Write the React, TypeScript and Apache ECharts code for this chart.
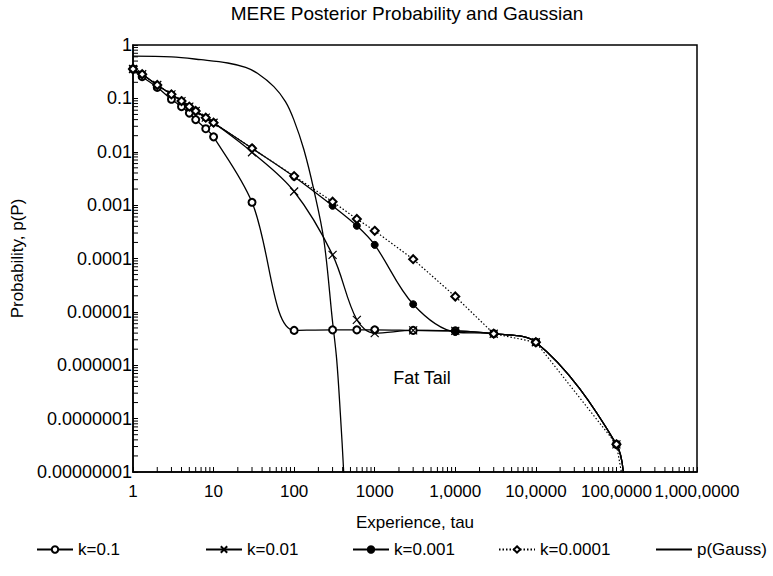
import React, { useEffect, useRef } from 'react';
import * as echarts from 'echarts';

const chartTitle = 'MERE Posterior Probability and Gaussian';
const xAxisName = 'Experience, tau';
const yAxisName = 'Probability, p(P)';
const annotation = 'Fat Tail';

const xTickLabels = ['1', '10', '100', '1000', '1,0000', '10,0000', '100,0000', '1,000,0000'];
const yTickLabels = ['1', '0.1', '0.01', '0.001', '0.0001', '0.00001', '0.000001', '0.0000001', '0.00000001'];

const seriesNames = ['k=0.1', 'k=0.01', 'k=0.001', 'k=0.0001', 'p(Gauss)'];

const tau = [1, 1.3, 2, 3, 4, 5, 6, 8, 10, 30, 100, 300, 600, 1000, 3000, 10000, 30000, 100000, 1000000, 1250000];
const pK01 = [0.355, 0.255, 0.161, 0.096, 0.07, 0.053, 0.04, 0.027, 0.019, 0.00113, 4.5e-6, 4.6e-6, 4.6e-6, 4.6e-6, 4.5e-6, 4.4e-6, 3.9e-6, 2.7e-6, 3.3e-8, 5e-9];
const pK001 = [0.355, 0.283, 0.178, 0.119, 0.089, 0.07, 0.058, 0.0435, 0.035, 0.0098, 0.0018, 1.17e-4, 7.1e-6, 4.0e-6, 4.5e-6, 4.4e-6, 3.9e-6, 2.7e-6, 3.3e-8, 5e-9];
const pK0001 = [0.355, 0.283, 0.178, 0.119, 0.089, 0.07, 0.058, 0.0435, 0.035, 0.0116, 0.0034, 9.7e-4, 4.1e-4, 1.8e-4, 1.39e-5, 4.2e-6, 3.9e-6, 2.7e-6, 3.3e-8, 5e-9];
const pK00001 = [0.355, 0.283, 0.178, 0.119, 0.089, 0.07, 0.058, 0.0435, 0.035, 0.0116, 0.0035, 1.16e-3, 5.5e-4, 3.3e-4, 9.7e-5, 1.94e-5, 3.9e-6, 2.7e-6, 3.3e-8, 5e-9];

const gaussTau = [1, 3, 7, 15, 25, 35, 56, 78, 99, 132, 176, 234, 298, 337, 375, 412, 440];
const gaussP = [0.62, 0.6, 0.53, 0.46, 0.38, 0.295, 0.166, 0.087, 0.04, 0.011, 1.9e-3, 2.2e-4, 7.1e-6, 1.3e-6, 1.2e-7, 1e-8, 1e-9];

const minorMultipliers = [2, 3, 4, 5, 6, 7, 8, 9];
const xDecades = [1, 10, 100, 1000, 10000, 100000, 1000000];
const yDecades = [1e-8, 1e-7, 1e-6, 1e-5, 1e-4, 1e-3, 1e-2, 1e-1];

const legendLefts = [36, 205, 352, 498, 655];

const FONT = 'Liberation Sans, Arial, sans-serif';

function buildData(xs: number[], ys: number[]) {
  return xs.map((x, i) =>
    i === xs.length - 1 ? { value: [x, ys[i]], symbol: 'none' } : [x, ys[i]]
  );
}

export default function App() {
  const ref = useRef<HTMLDivElement>(null);
  useEffect(() => {
    if (!ref.current) return;
    const chart = echarts.init(ref.current, undefined, { renderer: 'svg' });

    const xMinor: number[][] = [];
    xDecades.forEach((d) => minorMultipliers.forEach((m) => xMinor.push([d * m, 1e-8])));
    const yMinor: number[][] = [];
    yDecades.forEach((d) => minorMultipliers.forEach((m) => yMinor.push([1, d * m])));

    const lineBase = { type: 'line', smooth: 0.35, clip: true, symbolSize: 7, z: 3 };

    const option: any = {
      animation: false,
      backgroundColor: '#fff',
      textStyle: { fontFamily: FONT, color: '#000' },
      title: {
        text: chartTitle,
        left: 407,
        top: 4,
        textAlign: 'center',
        padding: 0,
        textStyle: { fontFamily: FONT, fontSize: 19, fontWeight: 'normal', color: '#000' },
      },
      grid: {
        left: 133,
        right: 76,
        top: 45,
        bottom: 104,
        show: true,
        borderColor: '#000',
        borderWidth: 1.5,
        backgroundColor: 'transparent',
        outerBoundsMode: 'none',
        containLabel: false,
      },
      legend: seriesNames.map((n, i) => ({
        data: [i === 4 ? { name: n, itemStyle: { opacity: 0 } } : { name: n }],
        left: legendLefts[i],
        top: 541,
        padding: 0,
        itemWidth: 36,
        itemHeight: 8,
        itemGap: 0,
        selectedMode: false,
        textStyle: { fontFamily: FONT, fontSize: 17, color: '#000' },
      })),
      xAxis: {
        type: 'log',
        logBase: 10,
        min: 1,
        max: 1e7,
        splitNumber: 7,
        name: xAxisName,
        nameLocation: 'middle',
        nameGap: 42,
        nameTextStyle: { fontFamily: FONT, fontSize: 17, color: '#000' },
        axisLine: { show: true, lineStyle: { color: '#000', width: 1.5 } },
        axisTick: { show: true, inside: true, length: 5, lineStyle: { color: '#000' } },
        splitLine: { show: false },
        axisLabel: {
          margin: 11,
          fontFamily: FONT,
          fontSize: 17,
          color: '#000',
          hideOverlap: false,
          showMinLabel: true,
          showMaxLabel: true,
          formatter: (v: number) => xTickLabels[Math.round(Math.log10(v))] ?? '',
        },
      },
      yAxis: {
        type: 'log',
        logBase: 10,
        min: 1e-8,
        max: 1,
        splitNumber: 8,
        name: yAxisName,
        nameLocation: 'middle',
        nameGap: 106,
        nameTextStyle: { fontFamily: FONT, fontSize: 17, color: '#000' },
        axisLine: { show: true, lineStyle: { color: '#000', width: 1.5 } },
        axisTick: { show: true, inside: true, length: 5, lineStyle: { color: '#000' } },
        splitLine: { show: false },
        axisLabel: {
          margin: 1,
          fontFamily: FONT,
          fontSize: 18,
          color: '#000',
          hideOverlap: false,
          showMinLabel: true,
          showMaxLabel: true,
          formatter: (v: number) => yTickLabels[Math.round(-Math.log10(v))] ?? '',
        },
      },
      graphic: [
        {
          type: 'text',
          x: 422,
          y: 378,
          style: {
            text: annotation,
            font: `18px ${FONT}`,
            fill: '#000',
            textAlign: 'center',
            textVerticalAlign: 'middle',
          },
        },
      ],
      series: [
        {
          ...lineBase,
          name: seriesNames[0],
          data: buildData(tau, pK01),
          symbol: 'emptyCircle',
          lineStyle: { color: '#000', width: 1.3 },
          itemStyle: { color: '#000', borderColor: '#000', borderWidth: 1.2 },
        },
        {
          ...lineBase,
          name: seriesNames[1],
          data: buildData(tau, pK001),
          symbol: 'path://M0,0L10,10M10,0L0,10',
          symbolSize: 8,
          lineStyle: { color: '#000', width: 1.3 },
          itemStyle: { color: '#000', borderColor: '#000', borderWidth: 1.2 },
        },
        {
          ...lineBase,
          name: seriesNames[2],
          data: buildData(tau, pK0001),
          symbol: 'circle',
          lineStyle: { color: '#000', width: 1.3 },
          itemStyle: { color: '#000', borderColor: '#000', borderWidth: 1 },
        },
        {
          ...lineBase,
          name: seriesNames[3],
          data: buildData(tau, pK00001),
          smooth: false,
          symbol: 'emptyDiamond',
          symbolSize: 8,
          lineStyle: { color: '#000', width: 1.2, type: [1.5, 2] },
          itemStyle: { color: '#000', borderColor: '#000', borderWidth: 1.2 },
        },
        {
          ...lineBase,
          name: seriesNames[4],
          data: gaussTau.map((x, i) => [x, gaussP[i]]),
          symbol: 'none',
          showSymbol: false,
          lineStyle: { color: '#000', width: 1.3 },
          itemStyle: { color: '#000' },
        },
        {
          type: 'custom',
          name: 'xMinorTicks',
          coordinateSystem: 'cartesian2d',
          silent: true,
          clip: false,
          z: 5,
          data: xMinor,
          renderItem: (params: any, api: any) => {
            const p = api.coord([api.value(0), api.value(1)]);
            return {
              type: 'line',
              shape: { x1: p[0], y1: p[1], x2: p[0], y2: p[1] - 5 },
              style: { stroke: '#000', lineWidth: 1 },
            };
          },
        },
        {
          type: 'custom',
          name: 'yMinorTicks',
          coordinateSystem: 'cartesian2d',
          silent: true,
          clip: false,
          z: 5,
          data: yMinor,
          renderItem: (params: any, api: any) => {
            const p = api.coord([api.value(0), api.value(1)]);
            return {
              type: 'line',
              shape: { x1: p[0], y1: p[1], x2: p[0] + 5, y2: p[1] },
              style: { stroke: '#000', lineWidth: 1 },
            };
          },
        },
      ],
    };
    chart.setOption(option);
    return () => chart.dispose();
  }, []);
  return <div ref={ref} style={{ width: 773, height: 576, position: 'absolute', left: 0, top: 0 }} />;
}
